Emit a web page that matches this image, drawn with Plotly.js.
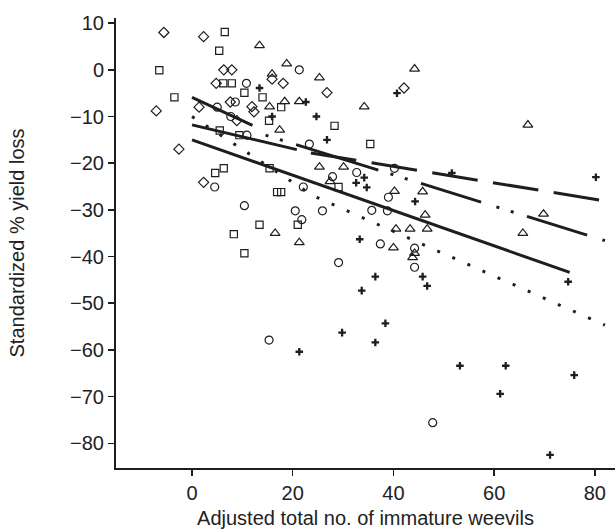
<!DOCTYPE html>
<html>
<head>
<meta charset="utf-8">
<script src="https://cdn.plot.ly/plotly-3.0.1.min.js"></script>
<style>html,body{margin:0;padding:0;background:#fff;}#chart{width:615px;height:531px;}</style>
</head>
<body>
<div id="chart"></div>
<script>
// ---- marker data (x = adjusted total no. of immature weevils, y = standardized % yield loss)
const diamondX = [-5.6, 2.3, 6.3, 7.9, 4.8, 15.9, 18.1, 26.8, 42.1, 7.6, -7.1, 1.4, 11.9, 12.3, 8.9, -2.6, 2.3];
const diamondY = [8.0, 7.1, 0.0, 0.0, -2.9, -2.0, -2.9, -4.9, -3.9, -6.9, -8.8, -8.0, -7.9, -9.0, -10.9, -17.0, -24.1];

const squareX = [6.5, 5.4, -6.5, -3.5, 6.2, 7.9, 10.4, 14.0, 17.7, 15.3, 28.3, 5.5, 9.4, 4.6, 6.3, 15.4, 35.4, 16.9, 17.7, 29.1, 13.4, 21.0, 8.3, 10.4];
const squareY = [8.1, 4.1, -0.1, -5.9, -2.9, -2.9, -4.9, -5.9, -8.0, -10.9, -12.0, -13.0, -14.0, -22.1, -21.1, -21.1, -15.9, -26.2, -26.2, -25.1, -33.2, -33.2, -35.2, -39.3];

const circleX = [21.3, 10.8, 8.6, 5.0, 7.7, 10.9, 23.3, 27.9, 32.7, 4.5, 10.4, 20.5, 21.8, 25.9, 22.1, 29.1, 15.3, 40.2, 39.0, 35.7, 38.8, 37.4, 44.2, 44.2, 47.8];
const circleY = [0.0, -2.9, -6.9, -8.0, -10.0, -14.0, -15.9, -22.9, -22.0, -25.1, -29.1, -30.2, -32.1, -30.2, -25.1, -41.3, -57.9, -21.1, -27.3, -30.1, -30.2, -37.3, -38.2, -42.3, -75.6];

const triangleX = [13.4, 18.8, 15.9, 25.3, 18.4, 21.3, 15.4, 17.4, 25.3, 30.1, 34.2, 44.2, 66.7, 27.4, 40.2, 45.8, 46.3, 40.5, 43.3, 46.7, 40.0, 44.2, 43.8, 69.8, 65.7, 16.5, 21.3];
const triangleY = [5.2, 1.3, -0.9, -1.7, -6.8, -6.8, -7.9, -12.9, -20.8, -20.8, -7.9, 0.2, -11.8, -23.9, -26.0, -26.1, -31.1, -34.1, -34.1, -34.1, -38.1, -39.3, -40.2, -30.9, -35.0, -35.0, -37.0];

const crossX = [13.4, 22.6, 15.9, 24.7, 26.8, 40.7, 34.2, 32.6, 34.7, 44.3, 51.6, 80.2, 33.3, 36.4, 33.7, 45.8, 46.7, 74.7, 38.4, 29.8, 36.4, 53.2, 62.3, 61.2, 75.9, 71.1, 21.3];
const crossY = [-3.9, -6.9, -10.0, -10.0, -15.0, -5.0, -23.1, -24.2, -25.2, -28.2, -22.1, -23.0, -36.3, -44.3, -47.3, -44.3, -46.3, -45.4, -54.3, -56.3, -58.4, -63.4, -63.4, -69.4, -65.4, -82.5, -60.4];

// ---- fitted lines (end points)
const lineShortX = [0, 12];     const lineShortY = [-5.9, -11.9];
const lineMidX   = [0, 20.8];   const lineMidY   = [-11.8, -17.1];
const lineLongX  = [0, 75];     const lineLongY  = [-15.0, -43.4];
const dashLineX  = [23.6, 82];  const dashLineY  = [-17.8, -28.1];
const ddLineAX   = [14.6, 37];  const ddLineAY   = [-14.0, -21.5];
const ddLineBX   = [39.4, 82];  const ddLineBY   = [-22.3, -36.6];
const dotLineX   = [0, 24.1, 82]; const dotLineY = [-10.0, -27.0, -54.7];

// ---- axis ticks
const xTicks = [0, 20, 40, 60, 80];
const yTicks = [10, 0, -10, -20, -30, -40, -50, -60, -70, -80];

const ink = '#1e1e1e';
function pts(x, y, symbol, size, lw) {
  return {x: x, y: y, type: 'scatter', mode: 'markers', hoverinfo: 'skip',
    marker: {symbol: symbol, size: size, color: ink, line: {color: ink, width: lw}}};
}
function ln(x, y, dash, w) {
  return {x: x, y: y, type: 'scatter', mode: 'lines', hoverinfo: 'skip',
    line: {color: ink, width: w, dash: dash}};
}

const data = [
  ln(dotLineX, dotLineY, '3px,13.5px', 3),
  ln(ddLineAX, ddLineAY, '3px,12px,3px,14px,90px,60px', 3),
  ln(ddLineBX, ddLineBY, '3px,12px,3px,14px,63px,16px', 3),
  ln(dashLineX, dashLineY, '46px,15.5px', 3),
  ln(lineMidX, lineMidY, 'solid', 3),
  ln(lineShortX, lineShortY, 'solid', 3),
  ln(lineLongX, lineLongY, 'solid', 3),
  pts(diamondX, diamondY, 'diamond-open', 7.8, 1.2),
  pts(squareX, squareY, 'square-open', 7.2, 1.2),
  pts(circleX, circleY, 'circle-open', 8, 1.2),
  pts(triangleX, triangleY, 'triangle-up-open', 8.6, 1.2),
  pts(crossX, crossY, 'cross-thin-open', 5.4, 2.3)
];

const font = {family: '"Liberation Sans", Arial, sans-serif', size: 20, color: '#222'};
const layout = {
  width: 615, height: 531,
  margin: {l: 116, r: 0, t: 18, b: 63, pad: 0},
  paper_bgcolor: '#fff', plot_bgcolor: '#fff',
  showlegend: false,
  font: font,
  xaxis: {
    range: [-15.1, 84], tickvals: xTicks, ticks: 'outside', ticklen: 6, tickwidth: 1.5, tickcolor: ink,
    showline: true, linecolor: ink, linewidth: 2, showgrid: false, zeroline: false,
    tickfont: font, automargin: false,
    title: {text: 'Adjusted total no. of immature weevils', font: font, standoff: 8}
  },
  yaxis: {
    range: [-85.3, 11.1], tickvals: yTicks, ticks: 'outside', ticklen: 6, tickwidth: 1.5, tickcolor: ink,
    showline: true, linecolor: ink, linewidth: 2, showgrid: false, zeroline: false,
    tickfont: font, automargin: false,
    title: {text: 'Standardized % yield loss', font: font, standoff: 40}
  }
};

Plotly.newPlot('chart', data, layout, {staticPlot: true, displayModeBar: false});
</script>
</body>
</html>
